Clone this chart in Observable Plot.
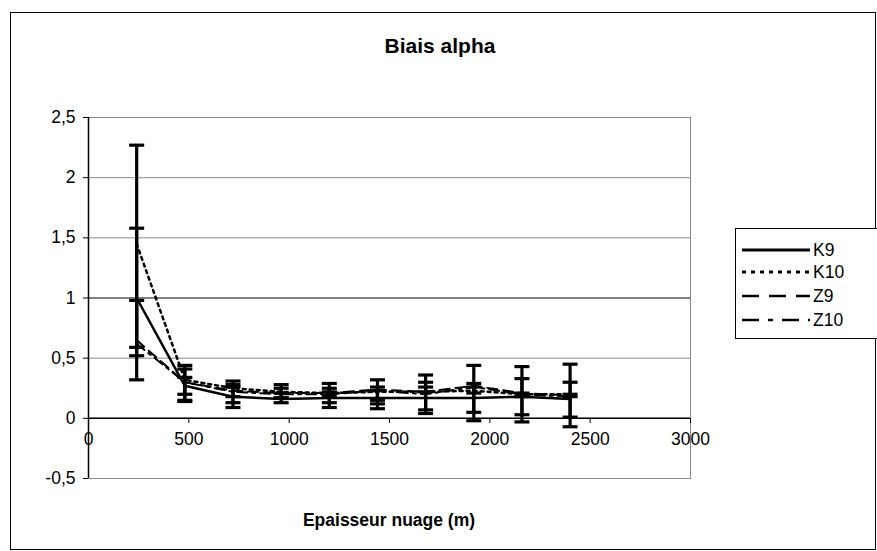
<!DOCTYPE html>
<html><head><meta charset="utf-8">
<script src="https://cdn.jsdelivr.net/npm/d3@7"></script>
<script src="https://cdn.jsdelivr.net/npm/@observablehq/plot@0.6"></script>
<style>
body{margin:0;background:#fff;font-family:"Liberation Sans",Arial,sans-serif;}
#wrap{position:relative;width:877px;height:551px;overflow:hidden;}
#wrap > svg{position:absolute;left:0;top:0;}
.frame{position:absolute;left:10px;top:12px;width:866px;height:538px;border:1px solid #000;box-sizing:border-box;}
.title{position:absolute;left:0;width:880px;top:34px;text-align:center;font-weight:bold;font-size:21px;}
.xlabel{position:absolute;left:139px;width:500px;top:510px;text-align:center;font-weight:bold;font-size:17.5px;}
.legend{position:absolute;left:735px;top:228px;width:150px;height:111px;border:1px solid #000;box-sizing:border-box;background:#fff;}
.legend .row{position:absolute;left:6px;height:20px;display:flex;align-items:center;font-size:17.5px;}
#wrap .legend svg{position:static;margin-right:3px;}
</style></head>
<body><div id="wrap"></div>
<script>
const xValues = [240, 480, 720, 960, 1200, 1440, 1680, 1920, 2160, 2400];
const seriesNames = ["K9", "K10", "Z9", "Z10"];
const K9  = [1.00, 0.27, 0.18, 0.16, 0.17, 0.17, 0.17, 0.17, 0.18, 0.16];
const K10 = [1.45, 0.32, 0.25, 0.22, 0.21, 0.22, 0.22, 0.23, 0.20, 0.20];
const Z9  = [0.65, 0.30, 0.23, 0.21, 0.21, 0.24, 0.22, 0.27, 0.21, 0.19];
const Z10 = [0.62, 0.30, 0.22, 0.20, 0.20, 0.23, 0.20, 0.26, 0.20, 0.18];
const K9lo  = [0.32, 0.14, 0.09, 0.13, 0.09, 0.08, 0.07, 0.05, 0.03, 0.01];
const K9hi  = [1.58, 0.41, 0.26, 0.21, 0.25, 0.26, 0.26, 0.29, 0.33, 0.30];
const K10lo = [0.59, 0.15, 0.13, 0.17, 0.13, 0.12, 0.04, -0.02, -0.03, -0.07];
const K10hi = [2.27, 0.44, 0.31, 0.28, 0.29, 0.32, 0.36, 0.44, 0.43, 0.45];
const Z9lo  = [0.52, 0.20, 0.18, 0.17, 0.19, 0.15, 0.22, 0.21, 0.18, 0.18];
const Z9hi  = [0.98, 0.34, 0.28, 0.25, 0.22, 0.23, 0.30, 0.26, 0.21, 0.20];
const yTicks = [-0.5, 0, 0.5, 1, 1.5, 2, 2.5];
const xTicks = [0, 500, 1000, 1500, 2000, 2500, 3000];
const title = "Biais alpha";
const xTitle = "Epaisseur nuage (m)";

const dashes = {K9: null, K10: "3,4", Z9: "10,6", Z10: "10,5,3,5"};
const legendDashes = {K9: null, K10: "4,5", Z9: "17,10", Z10: "17,9,5,9"};
const widths = {K9: 2.5, K10: 2.5, Z9: 2, Z10: 2};
const values = {K9, K10, Z9, Z10};
const lineData = seriesNames.flatMap(s => xValues.map((x, i) => ({s, x, y: values[s][i]})));
const errData = [[K9lo, K9hi], [K10lo, K10hi], [Z9lo, Z9hi]].flatMap(([lo, hi]) =>
  xValues.map((x, i) => ({x, lo: lo[i], hi: hi[i]})));
const capData = errData.flatMap(d => [{x: d.x, y: d.lo}, {x: d.x, y: d.hi}]);
const capSymbol = {draw(ctx) { ctx.moveTo(-7.5, 0); ctx.lineTo(7.5, 0); }};
const fmt = d => String(d).replace(".", ",");

const plot = Plot.plot({
  width: 877, height: 551,
  marginLeft: 88, marginRight: 187, marginTop: 117, marginBottom: 73,
  style: {fontFamily: "'Liberation Sans', Arial, sans-serif", fontSize: "17.5px", color: "#000", background: "transparent"},
  x: {domain: [0, 3000]},
  y: {domain: [-0.5, 2.5]},
  marks: [
    Plot.ruleY(yTicks, {stroke: d => d === 1 ? "#000" : "#888", strokeWidth: 1, strokeOpacity: 1}),
    Plot.frame({stroke: "#888"}),
    Plot.axisY({ticks: yTicks, tickFormat: fmt, tickSize: 5, tickPadding: 8, label: null, stroke: "#000", fontSize: "17.5px"}),
    Plot.axisX({ticks: xTicks, anchor: "bottom", dy: -60, tickSize: 5, tickPadding: 9, label: null, fontSize: "17.5px", tickFormat: d => String(d)}),
    Plot.ruleX([0], {stroke: "#000", strokeWidth: 1.5}),
    Plot.ruleY([0], {stroke: "#000", strokeWidth: 1.5}),
    ...seriesNames.map(s => Plot.line(lineData.filter(d => d.s === s), {
      x: "x", y: "y", stroke: "#000", strokeWidth: widths[s], strokeDasharray: dashes[s], curve: "linear"})),
    Plot.ruleX(errData, {x: "x", y1: "lo", y2: "hi", stroke: "#000", strokeWidth: 3.2}),
    Plot.dot(capData, {x: "x", y: "y", symbol: capSymbol, stroke: "#000", strokeWidth: 3.2, fill: "none"})
  ]
});
const wrap = document.getElementById("wrap");
wrap.appendChild(plot);

const addDiv = (cls, text) => { const d = document.createElement("div"); d.className = cls; if (text) d.textContent = text; wrap.appendChild(d); return d; };
addDiv("frame");
addDiv("title", title);
addDiv("xlabel", xTitle);
const leg = addDiv("legend");
const rowTops = [11, 33, 57, 81];
seriesNames.forEach((s, i) => {
  const row = document.createElement("div");
  row.className = "row";
  row.style.top = rowTops[i] + "px";
  const svg = d3.create("svg").attr("width", 68).attr("height", 20);
  svg.append("line").attr("x1", 0).attr("x2", 68).attr("y1", 10).attr("y2", 10)
    .attr("stroke", "#000").attr("stroke-width", widths[s] + 0.5)
    .attr("stroke-dasharray", legendDashes[s]);
  row.appendChild(svg.node());
  const t = document.createElement("span"); t.textContent = s; row.appendChild(t);
  leg.appendChild(row);
});
</script></body></html>
